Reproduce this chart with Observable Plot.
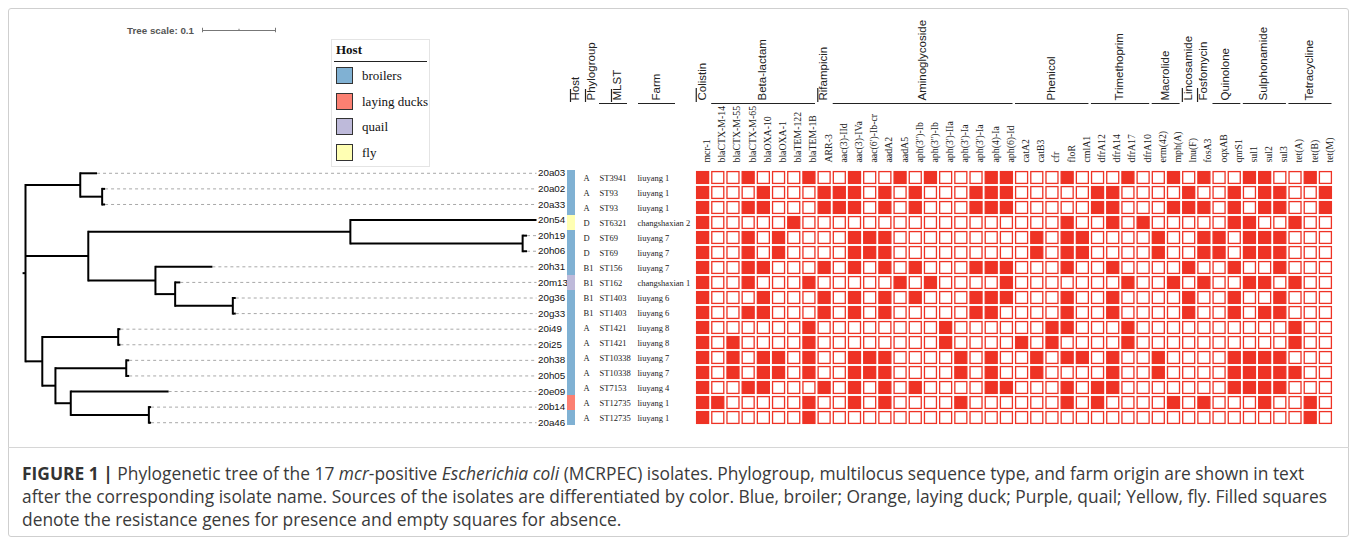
<!DOCTYPE html>
<html><head><meta charset="utf-8">
<script src="https://cdn.jsdelivr.net/npm/d3@7"></script>
<script src="https://cdn.jsdelivr.net/npm/@observablehq/plot@0.6"></script>
<style>
body{margin:0;background:#fff;}
#wrap{position:relative;width:1357px;height:544px;overflow:hidden;background:#fff;}
#wrap svg.layer{position:absolute;left:0;top:0;background:transparent;}
#frame{position:absolute;left:8px;top:8px;width:1341px;height:529px;border:1px solid #cfcfcf;border-radius:3px;box-sizing:border-box;}
#sep{position:absolute;left:8px;width:1341px;top:447px;border-top:1px solid #d6d6d6;}
#caption{position:absolute;left:22px;top:462px;font-family:'Open Sans','Liberation Sans',Arial,sans-serif;font-size:17.4px;line-height:23px;color:#3a3a3a;white-space:nowrap;}
#caption b{color:#333;}
</style></head>
<body><div id="wrap"><div id="frame"></div><div id="sep"></div></div>
<script>
// ---------------- data ----------------
const isolates = ["20a03","20a02","20a33","20n54","20h19","20h06","20h31","20m13","20g36","20g33","20i49","20i25","20h38","20h05","20e09","20b14","20a46"];
const hostOfIsolate = ["broilers","broilers","broilers","fly","broilers","broilers","broilers","quail","broilers","broilers","broilers","broilers","broilers","broilers","broilers","laying ducks","broilers"];
const phylogroups = ["A","A","A","D","D","D","B1","B1","B1","B1","A","A","A","A","A","A","A"];
const mlst = ["ST3941","ST93","ST93","ST6321","ST69","ST69","ST156","ST162","ST1403","ST1403","ST1421","ST1421","ST10338","ST10338","ST7153","ST12735","ST12735"];
const farms = ["liuyang 1","liuyang 1","liuyang 1","changshaxian 2","liuyang 7","liuyang 7","liuyang 7","changshaxian 1","liuyang 6","liuyang 6","liuyang 8","liuyang 8","liuyang 7","liuyang 7","liuyang 4","liuyang 1","liuyang 1"];

const hostNames = ["broilers","laying ducks","quail","fly"];
const hostColors = ["#80b1d3","#fb8072","#bebada","#ffffb3"];

const genes = ["mcr-1","blaCTX-M-14","blaCTX-M-55","blaCTX-M-65","blaOXA-10","blaOXA-1","blaTEM-122","blaTEM-1B","ARR-3","aac(3)-IId","aac(3)-IVa","aac(6')-Ib-cr","aadA2","aadA5","aph(3'')-Ib","aph(3'')-Ib","aph(3')-IIa","aph(3')-Ia","aph(3')-Ia","aph(4)-Ia","aph(6)-Id","catA2","catB3","cfr","floR","cmlA1","dfrA12","dfrA14","dfrA17","dfrA10","erm(42)","mph(A)","lnu(F)","fosA3","oqxAB","qnrS1","sul1","sul2","sul3","tet(A)","tet(B)","tet(M)"];
const classNames = ["Colistin","Beta-lactam","Rifampicin","Aminoglycoside","Phenicol","Trimethoprim","Macrolide","Lincosamide","Fosfomycin","Quinolone","Sulphonamide","Tetracycline"];
const classSizes = [1,7,1,12,5,4,2,1,1,2,3,3];

// presence (1) / absence (0) of each gene, one string per isolate, gene order as above
const presence = [
  "10010001001001"+"01000110001000"+"10010100110010",
  "10001000111010"+"10001110000011"+"00001001011001",
  "10011000111010"+"10001110000011"+"00011101011001",
  "10000010000000"+"00000000001001"+"01000001100100",
  "10010100001110"+"00000000101100"+"00100110111000",
  "10010100001110"+"00000000101100"+"00100110111000",
  "10011000101010"+"10001110001001"+"00001001001000",
  "10010001000001"+"01000010000000"+"10010100110100",
  "10001000101010"+"10001110001001"+"00001001001000",
  "10011000101010"+"00001100001001"+"00001001011000",
  "10000001000000"+"00100000011000"+"10000000000100",
  "10100001000000"+"00100001010000"+"10000000000100",
  "10101101001110"+"00010100101101"+"00100001111000",
  "10101101001110"+"00010100100001"+"00100001111100",
  "10011000101010"+"10000110001011"+"00000001111000",
  "11000001001010"+"00010000001010"+"00010100010010",
  "10000001000000"+"00000000000000"+"00000000000010"
];

// phylogenetic tree: node, parent, branch length
const treeNodes   = ["root","n1","20a03","n1b","20a02","20a33","n3","n4","20n54","n5","20h19","20h06","n6","20h31","n7","20m13","n8","20g36","20g33","n9","n10","20i49","20i25","n11","n12","20h38","20h05","n13","20e09","n14","20b14","20a46"];
const treeParents = [null,"root","n1","n1","n1b","n1b","root","n3","n4","n4","n5","n5","n3","n6","n6","n7","n7","n8","n8","root","n9","n10","n10","n9","n11","n12","n12","n11","n13","n13","n14","n14"];
const treeLengths = [0,0.075,0.023,0.030,0.004,0.004,0.086,0.359,0.255,0.236,0.006,0.006,0.092,0.078,0.027,0.007,0.079,0.004,0.004,0.023,0.104,0.003,0.003,0.018,0.097,0.004,0.004,0.021,0.134,0.107,0.003,0.003];
const treeScaleValue = 0.1;

// ---------------- layout ----------------
const W = 1357, H = 440;
const rowRange = [165, 430];
const RED = "#ee3325";
const SERIF = "'Liberation Serif','Times New Roman',serif";
const SANS = "'Liberation Sans',Arial,sans-serif";
const wrap = document.getElementById("wrap");
function layer(svg){ svg.classList.add("layer"); wrap.appendChild(svg); return svg; }
const bandY = {type: "band", domain: isolates, range: rowRange, padding: 0, axis: null};

// ---------------- tree ----------------
const nodes = treeNodes.map((id, i) => ({id, parent: treeParents[i], len: treeLengths[i], children: []}));
const byId = new Map(nodes.map(n => [n.id, n]));
nodes.forEach(n => { if (n.parent) byId.get(n.parent).children.push(n); });
const root = nodes.find(n => !n.parent);
(function setX(n, d){ n.x = d + n.len; n.children.forEach(c => setX(c, n.x)); })(root, 0);
(function setY(n){
  if (!n.children.length) n.y = isolates.indexOf(n.id);
  else { n.children.forEach(setY); n.y = (n.children[0].y + n.children[n.children.length-1].y) / 2; }
})(root);
const leaves = nodes.filter(n => !n.children.length);
const hEdges = nodes.filter(n => n.parent).map(n => ({x1: byId.get(n.parent).x, x2: n.x, y: n.y}));
const vEdges = nodes.filter(n => n.children.length).map(n => ({x: n.x, y1: n.children[0].y, y2: n.children[n.children.length-1].y}));
const treeX = {domain: [0, 0.7], range: [25, 536]};
const tipX = treeX.domain[1];
const pxPerUnit = (treeX.range[1]-treeX.range[0])/(treeX.domain[1]-treeX.domain[0]);

layer(Plot.plot({
  width: W, height: H, margin: 0,
  x: {...treeX, axis: null},
  y: {domain: [-0.5, isolates.length - 0.5], range: rowRange, axis: null},
  marks: [
    Plot.link(leaves, {x1: "x", x2: () => tipX, y1: "y", y2: "y", stroke: "#a8a8a8", strokeWidth: 1, strokeDasharray: "3,3"}),
    Plot.link(hEdges, {x1: "x1", x2: "x2", y1: "y", y2: "y", stroke: "#000", strokeWidth: 2}),
    Plot.link(vEdges, {x1: "x", x2: "x", y1: "y1", y2: "y2", stroke: "#000", strokeWidth: 2, strokeLinecap: "square"}),
    Plot.link([root], {x1: d => d.x - 0.004, x2: "x", y1: "y", y2: "y", stroke: "#000", strokeWidth: 2}),
    Plot.text(leaves, {x: () => tipX, y: "y", text: "id", textAnchor: "start", dx: 1.5, fontSize: 9.8, fontFamily: SANS, fill: "#111"})
  ]
}));

// tree scale
const ts = document.createElement("div");
ts.style.cssText = `position:absolute;left:127px;top:24px;display:flex;align-items:center;gap:6px;font:bold 9.8px ${SANS};color:#555;`;
const tsLabel = document.createElement("span");
tsLabel.textContent = `Tree scale: ${treeScaleValue}`;
ts.appendChild(tsLabel);
const tsLen = treeScaleValue * pxPerUnit;
const tsPlot = Plot.plot({
  width: tsLen + 6, height: 12, margin: 0,
  x: {domain: [0, treeScaleValue], range: [2, 2 + tsLen], axis: null},
  y: {domain: [-1, 1], range: [11, 1], axis: null},
  marks: [
    Plot.ruleY([0], {x1: 0, x2: treeScaleValue, stroke: "#777", strokeWidth: 1}),
    Plot.ruleX([0, treeScaleValue], {y1: -0.45, y2: 0.45, stroke: "#777", strokeWidth: 1}),
    Plot.ruleX([treeScaleValue/2], {y1: 0, y2: 0.25, stroke: "#777", strokeWidth: 1})
  ]
});
tsPlot.style.background = "transparent";
ts.appendChild(tsPlot);
wrap.appendChild(ts);

// legend
const lg = document.createElement("div");
lg.style.cssText = `position:absolute;left:331px;top:39px;width:99px;height:128px;border:1px solid #e4e4e4;box-sizing:border-box;font-family:${SERIF};color:#111;`;
lg.innerHTML = `<div style="position:absolute;left:4px;top:2px;font-weight:bold;font-size:13px;line-height:16px;">Host</div>
<div style="position:absolute;left:2px;right:2px;top:21px;border-top:1.5px solid #222;"></div>` +
  hostNames.map((h, i) => `<div style="position:absolute;left:4px;top:${27 + i*25.7}px;width:17px;height:17px;box-sizing:border-box;border:1.3px solid #333;background:${hostColors[i]};"></div>
<div style="position:absolute;left:30px;top:${27 + i*25.7}px;height:17px;line-height:17px;font-size:13px;">${h}</div>`).join("");
wrap.appendChild(lg);

// ---------------- metadata columns ----------------
const metaX = {domain: [0, 110], range: [567, 677]};
const metaRows = isolates.map((id, i) => ({id, host: hostOfIsolate[i], pg: phylogroups[i], st: mlst[i], farm: farms[i]}));
layer(Plot.plot({
  width: W, height: H, marginTop: rowRange[0], marginBottom: H - rowRange[1], marginLeft: 567, marginRight: W - 677,
  x: {...metaX, axis: null}, y: bandY,
  color: {domain: hostNames, range: hostColors},
  marks: [
    Plot.barX(metaRows, {x1: () => 0, x2: () => 8, y: "id", fill: "host"}),
    Plot.text(metaRows, {x: () => 16, y: "id", text: "pg", textAnchor: "start", fontFamily: SERIF, fontSize: 8.5, fill: "#222"}),
    Plot.text(metaRows, {x: () => 32, y: "id", text: "st", textAnchor: "start", fontFamily: SERIF, fontSize: 8.5, fill: "#222"}),
    Plot.text(metaRows, {x: () => 70, y: "id", text: "farm", textAnchor: "start", fontFamily: SERIF, fontSize: 8.5, fill: "#222"})
  ]
}));

const metaHeaders = [
  {name: "Host", bar: 3, text: 8},
  {name: "Phylogroup", bar: 18, text: 23.5},
  {name: "MLST", bar: 44, text: 49.5, line: [32, 60]},
  {name: "Farm", text: 88.5, line: [71, 108]}
];
layer(Plot.plot({
  width: W, height: H, margin: 0,
  x: {...metaX, axis: null}, y: {domain: [0, 1], range: [103, 3], axis: null},
  marks: [
    Plot.ruleY(metaHeaders.filter(d => d.line), {x1: d => d.line[0], x2: d => d.line[1], y: () => 0, stroke: "#222", strokeWidth: 1}),
    Plot.ruleX(metaHeaders.filter(d => d.bar != null), {x: "bar", y1: () => 0.01, y2: () => 0.14, stroke: "#222", strokeWidth: 1.2}),
    Plot.text(metaHeaders, {x: "text", y: () => 0, dy: -3, text: "name", rotate: -90, textAnchor: "start", fontFamily: SANS, fontSize: 11.5, fill: "#222"})
  ]
}));

// ---------------- heatmap ----------------
const cells = [];
isolates.forEach((id, r) => genes.forEach((g, c) => cells.push({isolate: id, col: c, v: presence[r][c] === "1"})));
const hmX = {domain: [-0.5, genes.length - 0.5], range: [695, 1333]};
layer(Plot.plot({
  width: W, height: H, marginTop: rowRange[0], marginBottom: H - rowRange[1], marginLeft: 695, marginRight: W - 1333,
  x: {...hmX, axis: null}, y: bandY,
  marks: [
    Plot.barX(cells.filter(d => !d.v), {x1: d => d.col - 0.5, x2: d => d.col + 0.5, y: "isolate", inset: 1.6, fill: "white", stroke: RED, strokeWidth: 1.3}),
    Plot.barX(cells.filter(d => d.v), {x1: d => d.col - 0.5, x2: d => d.col + 0.5, y: "isolate", inset: 1.6, fill: RED, stroke: RED, strokeWidth: 1.3}),
    Plot.text(genes, {x: (d, i) => i, frameAnchor: "top", dy: -3, text: d => d, rotate: -90, textAnchor: "start", fontFamily: SERIF, fontSize: 9.8, fill: "#222"})
  ]
}));

// antibiotic class headers
let start = 0;
const classes = classNames.map((name, i) => { const d = {name, start, end: start + classSizes[i] - 1, single: classSizes[i] === 1}; start += classSizes[i]; return d; });
layer(Plot.plot({
  width: W, height: H, margin: 0,
  x: {...hmX, axis: null}, y: {domain: [0, 1], range: [103, 3], axis: null},
  marks: [
    Plot.ruleY(classes.filter(d => !d.single), {x1: d => d.start - 0.5, x2: d => d.end + 0.5, y: () => 0, insetLeft: 1, insetRight: 1.5, stroke: "#222", strokeWidth: 1}),
    Plot.ruleX(classes.filter(d => d.single), {x: d => d.start - 0.45, y1: () => 0.01, y2: () => 0.15, stroke: "#222", strokeWidth: 1.2}),
    Plot.text(classes, {x: d => d.single ? d.start - 0.08 : (d.start + d.end) / 2 - 0.1, y: () => 0, dy: -3, text: "name", rotate: -90, textAnchor: "start", fontFamily: SANS, fontSize: 11.5, fill: "#222"})
  ]
}));

// ---------------- caption ----------------
const cap = document.createElement("div");
cap.id = "caption";
cap.innerHTML = `<b>FIGURE 1 |</b> Phylogenetic tree of the 17 <i>mcr</i>-positive <i>Escherichia coli</i> (MCRPEC) isolates. Phylogroup, multilocus sequence type, and farm origin are shown in text<br>after the corresponding isolate name. Sources of the isolates are differentiated by color. Blue, broiler; Orange, laying duck; Purple, quail; Yellow, fly. Filled squares<br>denote the resistance genes for presence and empty squares for absence.`;
wrap.appendChild(cap);
</script>
</body></html>
